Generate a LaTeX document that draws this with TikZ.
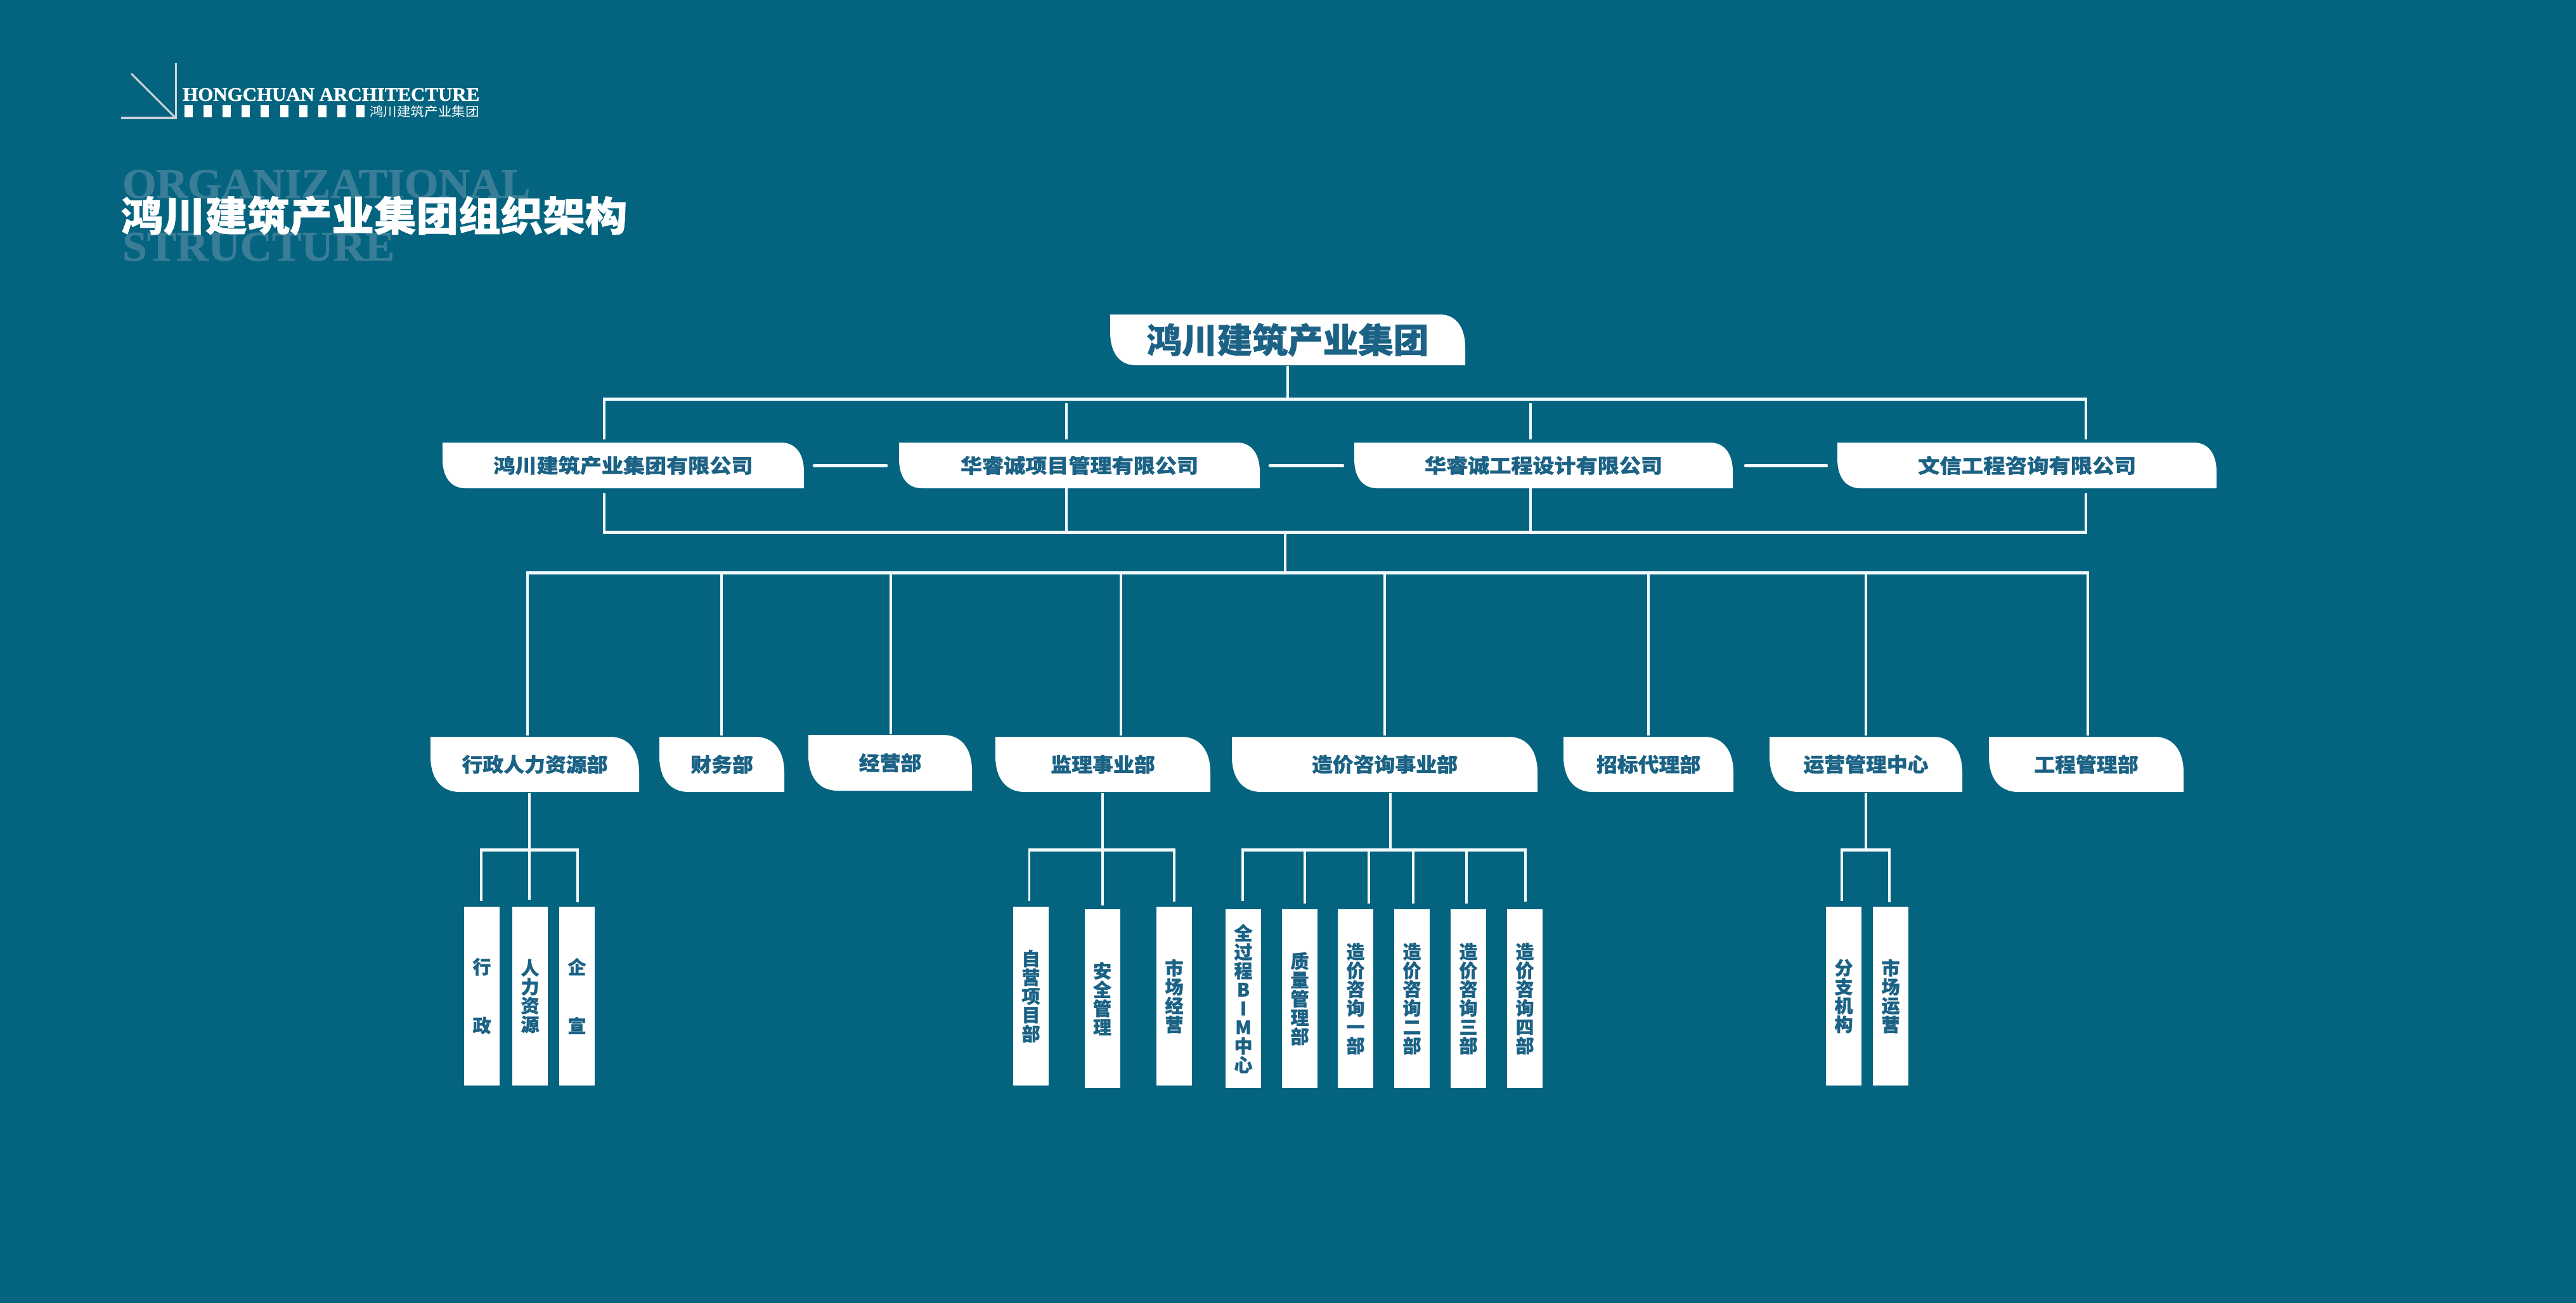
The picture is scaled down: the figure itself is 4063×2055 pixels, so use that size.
\documentclass[tikz,border=0pt]{standalone}
\usepackage{fontspec}
\usepackage{graphicx}
\setmainfont[BoldFeatures={FakeBold=1.2}]{Liberation Serif}
\newfontfamily\cjk[BoldFeatures={FakeBold=1}]{Noto Sans CJK SC}
\definecolor{bgc}{HTML}{04647F}
\definecolor{txc}{HTML}{1B6285}
\definecolor{ghost}{HTML}{397D97}
\definecolor{logoc}{HTML}{CBD3D8}
\definecolor{linec}{HTML}{F2FAFC}
\newcommand{\sx}[2]{\scalebox{#1}[1]{#2}}
% name, x0, y0, x1, y1, corner dx, corner dy, text
\newcommand{\leafshape}[8]{%
  \fill[white] (#2,#3) -- ({#4-#6},#3)
     .. controls ({#4-0.35*#6},#3) and (#4,{#3+0.4*#7}) .. (#4,{#3+#7})
     -- (#4,#5) -- ({#2+#6},#5)
     .. controls ({#2+0.35*#6},#5) and (#2,{#5-0.4*#7}) .. (#2,{#5-#7}) -- cycle;
  \node[boxlabel, minimum width={#4-#2}, minimum height={#5-#3}] (#1) at ({(#2+#4)/2},{(#3+#5)/2}) {#8};
}
\tikzset{
  x=1pt,y=-1pt,
  boxlabel/.style={inner sep=0pt,text=txc,font=\cjk\bfseries},
  bar/.style={draw=linec,line width=5pt},
  drop/.style={draw=linec,line width=3.8pt},
  sdrop/.style={draw=linec,line width=3.2pt},
  tall/.style={fill=white,inner sep=0pt,minimum width=56pt,minimum height=282pt,text=txc,align=center,font=\cjk\bfseries\fontsize{29}{29.7}\selectfont},
}
\begin{document}
\begin{tikzpicture}
\fill[bgc] (0,0) rectangle (4063,2055);
\useasboundingbox (0,0) rectangle (4063,2055);
% logo
\draw[logoc,line width=3pt] (277.5,99) -- (277.5,187);
\draw[logoc,line width=4pt] (191,186) -- (279,186);
\draw[logoc,line width=3pt] (207,116) -- (277,186);
\node[anchor=base west,inner sep=0pt,text=white,font=\bfseries] (logotext) at (288,159) {\resizebox{468pt}{20pt}{HONGCHUAN ARCHITECTURE}};
\foreach \i in {0,...,9} \fill[white] ({291+30.1*\i},166) rectangle ++(13,19);
\node[inner sep=0pt,text=white,font=\cjk\fontsize{20}{20}\selectfont] (logocn) at (669.5,176) {\sx{1.08}{鸿川建筑产业集团}};
% title
\node[anchor=base west,inner sep=0pt,text=ghost,font=\bfseries] (ghost1) at (193,312) {\resizebox{643pt}{44pt}{ORGANIZATIONAL}};
\node[anchor=base west,inner sep=0pt,text=ghost,font=\bfseries] (ghost2) at (193,411) {\resizebox{429pt}{44pt}{STRUCTURE}};
\node[inner sep=0pt,text=white,font=\cjk\bfseries\fontsize{64}{64}\selectfont] (title) at (590,340) {\sx{1.04}{鸿川建筑产业集团组织架构}};
% top box
\leafshape{top}{1751}{496}{2311}{576}{40}{52}{\fontsize{54}{54}\selectfont\sx{1.03}{鸿川建筑产业集团}}
% row 2
\leafshape{ca}{698}{698}{1268}{770}{36}{46}{\fontsize{31}{31}\selectfont\sx{1.1}{鸿川建筑产业集团有限公司}}
\leafshape{cb}{1418}{698}{1987}{770}{36}{46}{\fontsize{31}{31}\selectfont\sx{1.1}{华睿诚项目管理有限公司}}
\leafshape{cc}{2136}{698}{2733}{770}{36}{46}{\fontsize{31}{31}\selectfont\sx{1.1}{华睿诚工程设计有限公司}}
\leafshape{cd}{2898}{698}{3496}{770}{36}{46}{\fontsize{31}{31}\selectfont\sx{1.11}{文信工程咨询有限公司}}
% row 3
\leafshape{d1}{679}{1162}{1008}{1249}{46}{56}{\fontsize{31}{31}\selectfont\sx{1.06}{行政人力资源部}}
\leafshape{d2}{1040}{1162}{1237}{1249}{46}{56}{\fontsize{31}{31}\selectfont\sx{1.06}{财务部}}
\leafshape{d3}{1275}{1159}{1533}{1247}{46}{56}{\fontsize{31}{31}\selectfont\sx{1.06}{经营部}}
\leafshape{d4}{1570}{1162}{1909}{1249}{46}{56}{\fontsize{31}{31}\selectfont\sx{1.06}{监理事业部}}
\leafshape{d5}{1943}{1162}{2425}{1249}{46}{56}{\fontsize{31}{31}\selectfont\sx{1.06}{造价咨询事业部}}
\leafshape{d6}{2466}{1162}{2734}{1249}{46}{56}{\fontsize{31}{31}\selectfont\sx{1.06}{招标代理部}}
\leafshape{d7}{2791}{1162}{3095}{1249}{46}{56}{\fontsize{31}{31}\selectfont\sx{1.06}{运营管理中心}}
\leafshape{d8}{3137}{1162}{3444}{1249}{46}{56}{\fontsize{31}{31}\selectfont\sx{1.06}{工程管理部}}
% leaves
\node[tall] (l11) at (760,1571) {行\\[63pt]政};
\node[tall] (l12) at (836,1571) {人\\力\\资\\源};
\node[tall] (l13) at (910,1571) {企\\[63pt]宣};
\node[tall] (l41) at (1626,1571) {自\\营\\项\\目\\部};
\node[tall] (l42) at (1738.5,1575) {安\\全\\管\\理};
\node[tall] (l43) at (1852,1571) {市\\场\\经\\营};
\node[tall] (l51) at (1961,1575) {全\\过\\程\\B\\I\\M\\中\\心};
\node[tall] (l52) at (2050,1575) {质\\量\\管\\理\\部};
\node[tall] (l53) at (2138,1575) {造\\价\\咨\\询\\一\\部};
\node[tall] (l54) at (2227,1575) {造\\价\\咨\\询\\二\\部};
\node[tall] (l55) at (2316,1575) {造\\价\\咨\\询\\三\\部};
\node[tall] (l56) at (2405,1575) {造\\价\\咨\\询\\四\\部};
\node[tall] (l71) at (2908,1571) {分\\支\\机\\构};
\node[tall] (l72) at (2982,1571) {市\\场\\运\\营};
% bus coordinates
\coordinate (b1) at (0,629);
\coordinate (b2) at (0,839);
\coordinate (b3) at (0,903);
\coordinate (ta) at (953,693);  \coordinate (ua) at (953,778);
\coordinate (tb) at (1682,693); \coordinate (sb) at (1682,636);
\coordinate (tc) at (2414,693); \coordinate (sc) at (2414,636);
\coordinate (td) at (3290,693); \coordinate (ud) at (3290,778);
\coordinate (tube) at (2031,577);
% upper bus
\draw[bar] ([xshift=-1.9pt]ta |- b1) -- ([xshift=1.9pt]td |- b1);
\draw[drop] (tube) -- (tube |- b1);
\draw[drop] (ta |- b1) -- (ta);
\draw[drop] (sb) -- (tb);
\draw[drop] (sc) -- (tc);
\draw[drop] (td |- b1) -- (td);
% links in row 2
\draw[bar,line cap=round] ([xshift=16pt]ca.east) -- ([xshift=-20pt]cb.west);
\draw[bar,line cap=round] ([xshift=16pt]cb.east) -- ([xshift=-18pt]cc.west);
\draw[bar,line cap=round] ([xshift=20pt]cc.east) -- ([xshift=-17pt]cd.west);
% lower bus
\draw[bar] ([xshift=-1.9pt]ta |- b2) -- ([xshift=1.9pt]td |- b2);
\draw[drop] (ua) -- (ua |- b2);
\draw[drop] (cb.south -| tb) -- (tb |- b2);
\draw[drop] (cc.south -| tc) -- (tc |- b2);
\draw[drop] (ud) -- (ud |- b2);
\coordinate (mid) at (2027,839);
\draw[drop] (mid) -- (mid |- b3);
% department bus
\coordinate (e1) at (832,1160);
\coordinate (e2) at (1138,1160);
\coordinate (e3) at (1405,1158);
\coordinate (e4) at (1768,1160);
\coordinate (e5) at (2184,1160);
\coordinate (e6) at (2600,1160);
\coordinate (e7) at (2943,1160);
\coordinate (e8) at (3293,1160);
\draw[bar] ([xshift=-1.9pt]e1 |- b3) -- ([xshift=1.9pt]e8 |- b3);
\foreach \e in {e1,e2,e3,e4,e5,e6,e7,e8} \draw[drop] (\e |- b3) -- (\e);
% sub buses
\draw[sdrop] (835,1251) -- (835,1419);
\draw[bar] (757.4,1340) -- (912.6,1340);
\draw[sdrop] (759,1340) -- (759,1421);
\draw[sdrop] (911,1340) -- (911,1423);
\draw[sdrop] (1739,1251) -- (1739,1340);
\draw[bar] (1622,1340) -- (1853.6,1340);
\draw[sdrop] (1623.5,1340) -- (1623.5,1421);
\draw[sdrop] (1739,1343) -- (1739,1428);
\draw[sdrop] (1852,1340) -- (1852,1422);
\draw[sdrop] (2193,1251) -- (2193,1340);
\draw[bar] (1958.4,1340) -- (2407.6,1340);
\draw[sdrop] (1960,1340) -- (1960,1421);
\foreach \x in {2058,2159,2229,2313} \draw[sdrop] (\x,1340) -- (\x,1425);
\draw[sdrop] (2406,1340) -- (2406,1422);
\draw[sdrop] (2943,1251) -- (2943,1340);
\draw[bar] (2903.4,1340) -- (2981.6,1340);
\draw[sdrop] (2905,1340) -- (2905,1421);
\draw[sdrop] (2980,1340) -- (2980,1423);
\end{tikzpicture}
\end{document}
